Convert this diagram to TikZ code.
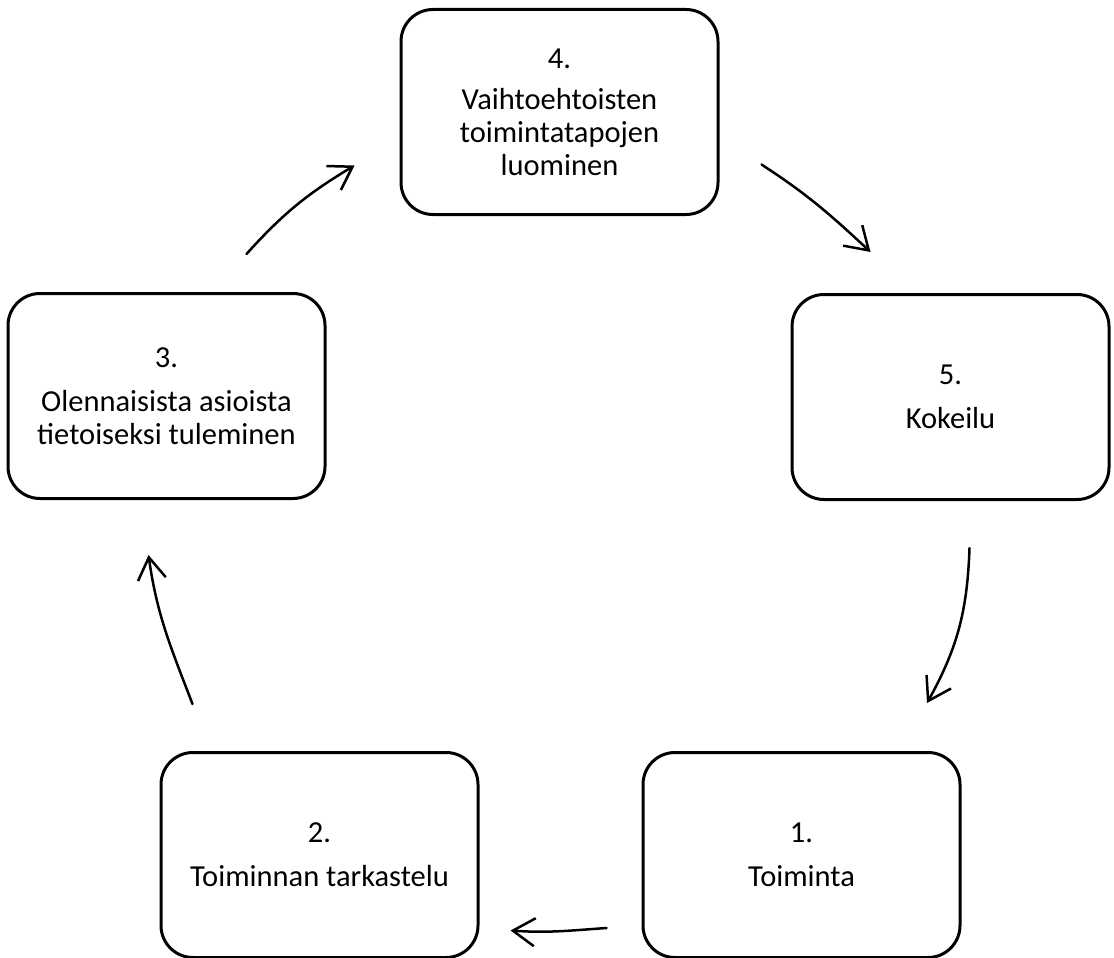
\documentclass[tikz,border=0pt]{standalone}
\usepackage{fontspec}
\setmainfont{Carlito}
\usepackage{tikz}
\usetikzlibrary{arrows.meta,positioning}

\begin{document}
\begin{tikzpicture}[
    x=1pt, y=1pt,
    stage/.style={rectangle, draw, line width=3pt, rounded corners=32pt, align=center, minimum width=317pt, minimum height=205pt, font=\fontsize{30.5}{33}\selectfont},
    arrow/.style={-{Straight Barb[length=22pt,width=28pt]}, line width=2.5pt, line cap=round, line join=round}
]
    \useasboundingbox (0,0) rectangle (1114,-958);
    \node[stage] (b4) at (559.5,-112) {4.\\[8pt]Vaihtoehtoisten\\toimintatapojen\\luominen};
    \node[stage, below left=76pt and 73pt of b4] (b3) {3.\\[11pt]Olennaisista asioista\\tietoiseksi tuleminen};
    \node[stage, below right=77pt and 71pt of b4] (b5) {5.\\[11pt]Kokeilu};
    \node[stage] (b1) at (801.5,-855) {1.\\[11pt]Toiminta};
    \node[stage, left=162pt of b1] (b2) {2.\\[11pt]Toiminnan tarkastelu};

    \draw[arrow] ([shift={(-35,-73)}]b1.west) to[out=184,in=-4] ([shift={(31,-75.5)}]b2.east);
    \draw[arrow] ([shift={(-127,47)}]b2.north) to[out=111,in=-82] ([shift={(-18,-55)}]b3.south);
    \draw[arrow] ([shift={(80,38)}]b3.north) to[out=48,in=211] ([shift={(-45,-53.5)}]b4.west);
    \draw[arrow] ([shift={(42,-52.5)}]b4.east) to[out=-33,in=137] ([shift={(-80,41)}]b5.north);
    \draw[arrow] ([shift={(19,-47)}]b5.south) to[out=-92,in=61] ([shift={(125.5,48)}]b1.north);
\end{tikzpicture}
\end{document}
